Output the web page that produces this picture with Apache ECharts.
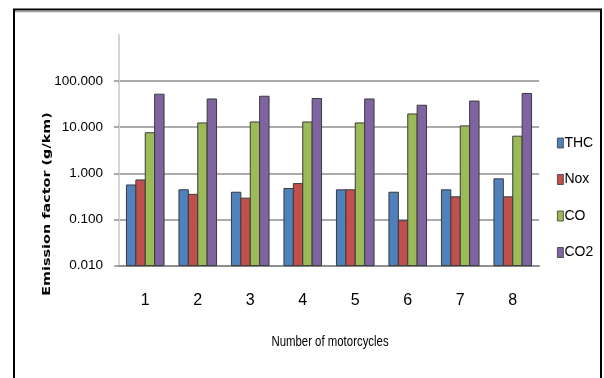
<!DOCTYPE html>
<html>
<head>
<meta charset="utf-8">
<script src="https://cdn.jsdelivr.net/npm/echarts@6/dist/echarts.min.js"></script>
<style>
  html, body { margin: 0; padding: 0; background: #fff; }
  #chart { width: 604px; height: 378px; }
</style>
</head>
<body>
<div id="chart"></div>
<script>
// Emission factors per motorcycle (g/km), log scale
const categories = ['1', '2', '3', '4', '5', '6', '7', '8'];
const thc = [0.56, 0.44, 0.39, 0.47, 0.44, 0.39, 0.44, 0.76];
const nox = [0.72, 0.35, 0.29, 0.60, 0.44, 0.094, 0.31, 0.31];
const co  = [7.6, 12.4, 13.0, 13.0, 12.4, 19.4, 10.7, 6.4];
const co2 = [52, 41, 47, 42, 41, 30, 37, 54];
const seriesNames = ['THC', 'Nox', 'CO', 'CO2'];
const seriesColors = ['#4F81BD', '#C0504D', '#9BBB59', '#8064A2'];
const yAxisTitle = 'Emission factor (g/km)';
const xAxisTitle = 'Number of motorcycles';
const yMin = 0.01;
const yMax = 1000;

const sans = "'Liberation Sans', Arial, sans-serif";
const BAR_W = 9.4;

const chart = echarts.init(document.getElementById('chart'), null, { renderer: 'canvas' });

// Bars rise from the bottom of the log axis, grouped side by side per category
function barSeries(name, values, color, slot) {
  return {
    name: name,
    type: 'custom',
    itemStyle: { color: color },
    encode: { x: 0, y: 1 },
    data: values.map(function (v, i) { return [i, v]; }),
    renderItem: function (params, api) {
      const idx = api.value(0);
      const top = api.coord([idx, api.value(1)]);
      const base = api.coord([idx, yMin]);
      const x = top[0] + (slot - 1.5) * BAR_W - BAR_W / 2;
      return {
        type: 'rect',
        shape: { x: x, y: top[1], width: BAR_W, height: base[1] - top[1] },
        style: { fill: color, stroke: '#3a3a3a', lineWidth: 1 }
      };
    }
  };
}

chart.setOption({
  animation: false,
  backgroundColor: '#ffffff',
  grid: { left: 119, right: 65, top: 35, bottom: 112.4, containLabel: false },
  legend: {
    orient: 'vertical',
    left: 557,
    top: 136,
    padding: 0,
    itemGap: 22.5,
    itemWidth: 6,
    itemHeight: 10,
    icon: 'rect',
    data: seriesNames.map(function (n, i) {
      return { name: n, itemStyle: { color: seriesColors[i], borderColor: '#3a3a3a', borderWidth: 0.8 } };
    }),
    textStyle: { fontFamily: sans, fontSize: 14, color: '#000', padding: [0, 0, 0, -4] }
  },
  xAxis: {
    type: 'category',
    data: categories,
    axisLine: { show: true, lineStyle: { color: '#8f8f8f', width: 2 } },
    axisTick: { show: false },
    axisLabel: { fontFamily: sans, fontSize: 16, color: '#000', margin: 27 }
  },
  yAxis: {
    type: 'log',
    logBase: 10,
    min: yMin,
    max: yMax,
    axisLine: { show: true, lineStyle: { color: '#d4d4d4', width: 2 } },
    axisTick: { show: true, length: 5, inside: false, lineStyle: { color: '#8f8f8f', width: 1.5 } },
    axisLabel: {
      fontFamily: sans,
      fontSize: 13.5,
      color: '#000',
      margin: 16,
      showMaxLabel: false,
      formatter: function (v) { return v.toFixed(3); }
    },
    splitLine: {
      show: true,
      showMinLine: false,
      showMaxLine: false,
      lineStyle: { color: '#8f8f8f', width: 1.6 }
    }
  },
  graphic: [
    {
      // outer frame
      type: 'rect',
      silent: true,
      shape: { x: 14, y: 9.5, width: 587, height: 400 },
      style: { fill: 'none', stroke: '#000', lineWidth: 2 },
      z: 100
    },
    {
      type: 'line',
      silent: true,
      shape: { x1: 15, y1: 11.5, x2: 600, y2: 11.5 },
      style: { stroke: '#9a9a9a', lineWidth: 1.5 },
      z: 100
    },
    {
      // y-axis title, rotated to read bottom-to-top
      type: 'text',
      silent: true,
      x: 47,
      y: 204,
      rotation: Math.PI / 2,
      scaleY: 0.72,
      style: {
        text: yAxisTitle,
        fontFamily: "'DejaVu Sans', sans-serif",
        fontWeight: 'bold',
        fontSize: 14.4,
        fill: '#000',
        align: 'center',
        verticalAlign: 'middle'
      },
      z: 100
    },
    {
      // x-axis title, condensed
      type: 'text',
      silent: true,
      x: 330,
      y: 342,
      scaleX: 0.76,
      style: {
        text: xAxisTitle,
        fontFamily: sans,
        fontSize: 15,
        fill: '#000',
        align: 'center',
        verticalAlign: 'middle'
      },
      z: 100
    }
  ],
  series: [
    barSeries(seriesNames[0], thc, seriesColors[0], 0),
    barSeries(seriesNames[1], nox, seriesColors[1], 1),
    barSeries(seriesNames[2], co, seriesColors[2], 2),
    barSeries(seriesNames[3], co2, seriesColors[3], 3)
  ]
});
</script>
</body>
</html>
